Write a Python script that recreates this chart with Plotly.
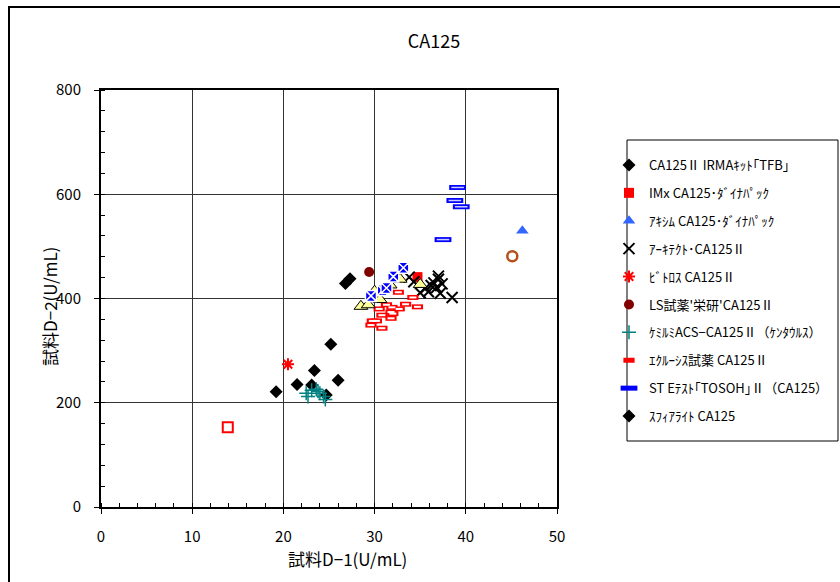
import plotly.graph_objects as go

# ---- data ----
irma_x = [19.2, 21.5, 23.1, 23.4, 24.7, 25.2, 26.0]
irma_y = [221, 235, 234, 262, 215, 312, 243]
imx_x = [34.7]
imx_y = [441]
axsym_x = [46.2]
axsym_y = [530]
arch_x = [33.8, 34.3, 35.0, 35.6, 35.9, 36.2, 36.5, 36.8, 37.0, 37.2, 37.4, 37.0, 38.5]
arch_y = [441, 432, 411, 420, 413, 425, 430, 421, 437, 410, 428, 443, 402]
vitros_x = [20.5]
vitros_y = [274]
ls_x = [29.4]
ls_y = [451]
chem_x = [22.5, 22.7, 23.1, 23.6, 24.0, 24.4, 24.6, 23.8]
chem_y = [218, 212, 224, 226, 218, 212, 206, 222]
ecl_x = [32.6, 34.2, 34.7, 33.4, 32.7, 31.9, 31.3, 30.5, 30.8, 31.8, 32.0, 31.8, 29.75, 30.2, 29.6, 30.8]
ecl_y = [412, 402, 384, 389, 380, 383, 388, 380, 368, 374, 371, 362, 357, 357, 349, 343]
st_x = [39.1, 38.8, 39.5, 37.5]
st_y = [613, 588, 576, 513]
sphere_x = [26.8, 27.3]
sphere_y = [429, 438]
tri_x = [28.5, 29.3, 30.6, 30.0, 31.0, 31.7, 32.8, 35.0]
tri_y = [385, 388, 398, 414, 420, 426, 437, 427]
bx_x = [29.6, 30.9, 31.3, 32.05, 33.15]
bx_y = [405, 416, 420, 442, 459]
osq_x = [13.9]
osq_y = [153]
ocirc_x = [45.1]
ocirc_y = [481]

names = [
    "CA125Ⅱ IRMAｷｯﾄ｢TFB｣",
    "IMx CA125･ﾀﾞｲﾅﾊﾟｯｸ",
    "ｱｷｼﾑ CA125･ﾀﾞｲﾅﾊﾟｯｸ",
    "ｱｰｷﾃｸﾄ･CA125Ⅱ",
    "ﾋﾞﾄﾛｽ CA125Ⅱ",
    "LS試薬'栄研'CA125Ⅱ",
    "ｹﾐﾙﾐACS−CA125Ⅱ（ｹﾝﾀｳﾙｽ）",
    "ｴｸﾙｰｼｽ試薬 CA125Ⅱ",
    "ST Eﾃｽﾄ｢TOSOH｣Ⅱ（CA125）",
    "ｽﾌｨｱﾗｲﾄ CA125",
]

W, H = 840, 582
L, R, T, B = 101, 557, 90, 507

def px2paper_x(px):
    return (px - L) / (R - L)

def px2paper_y(py):
    return (B - py) / (B - T)

fig = go.Figure()

def add(x, y, name, marker, group, showlegend=True):
    fig.add_trace(go.Scatter(x=x, y=y, mode="markers", name=name, marker=marker,
                             legendgroup=group, showlegend=showlegend))

add(irma_x, irma_y, names[0], dict(symbol="diamond", size=10, color="black"), "g0")
add(imx_x, imx_y, names[1], dict(symbol="square", size=10, color="#ff0000"), "g1")
add(axsym_x, axsym_y, names[2], dict(symbol="triangle-up", size=11, color="#3366ff"), "g2")
add(arch_x, arch_y, names[3], dict(symbol="x-thin-open", size=11, color="black", line=dict(width=2)), "g3")
add(vitros_x, vitros_y, names[4], dict(symbol="asterisk-open", size=10, color="#ff0000", line=dict(width=2)), "g4")
add(ls_x, ls_y, names[5], dict(symbol="circle", size=10, color="#800000"), "g5")
add(chem_x, chem_y, names[6], dict(symbol="cross-thin-open", size=10, color="#008080", line=dict(width=1.5)), "g6")
add(ecl_x, ecl_y, names[7], dict(symbol="line-ew-open", size=8, color="#ff0000", line=dict(width=5)), "g7")
add(ecl_x, ecl_y, names[7], dict(symbol="line-ew-open", size=5, color="white", line=dict(width=2)), "g7", False)
add(st_x, st_y, names[8], dict(symbol="line-ew-open", size=12, color="#0000ff", line=dict(width=5)), "g8")
add(st_x, st_y, names[8], dict(symbol="line-ew-open", size=9, color="#ccccff", line=dict(width=1.5)), "g8", False)
add(sphere_x, sphere_y, names[9], dict(symbol="diamond", size=10, color="black"), "g9")
add(tri_x, tri_y, "", dict(symbol="triangle-up", size=12, color="#ffff99", line=dict(color="black", width=1)), "g10", False)
add(bx_x, bx_y, "", dict(symbol="square-x", size=11, color="#0000ff", line=dict(color="white", width=1.5)), "g11", False)
add(osq_x, osq_y, "", dict(symbol="square-open", size=10, color="#ff0000", line=dict(width=2)), "g12", False)
add(ocirc_x, ocirc_y, "", dict(symbol="circle-open", size=10, color="#b5501a", line=dict(width=2.5)), "g13", False)

font_main = "Noto Sans CJK JP"

axis_common = dict(
    showline=True, linecolor="black", linewidth=2, mirror=True,
    showgrid=True, gridcolor="#333333", gridwidth=1, zeroline=False,
    ticks="outside", ticklen=5, tickcolor="black",
    tickfont=dict(family=font_main, size=15, color="black"),
)

fig.update_xaxes(range=[0, 50], dtick=10, tick0=0,
                 minor=dict(dtick=2, ticks="inside", ticklen=4, tickcolor="black", showgrid=False),
                 ticklabelstandoff=10, **axis_common)
fig.update_yaxes(range=[0, 800], dtick=200, tick0=0,
                 minor=dict(dtick=40, ticks="inside", ticklen=4, tickcolor="black", showgrid=False),
                 ticklabelstandoff=10, **axis_common)

fig.update_layout(
    width=W, height=H,
    margin=dict(l=L, r=W - R, t=T, b=H - B, autoexpand=False),
    paper_bgcolor="white", plot_bgcolor="white",
    font=dict(family=font_main, color="black"),
    title=dict(text="CA125", x=434 / W, xref="container", y=1 - 42 / H, yref="container",
               xanchor="center", yanchor="middle", font=dict(size=18, family=font_main)),
    legend=dict(x=px2paper_x(609), y=px2paper_y(150), xanchor="left", yanchor="top",
                bgcolor="rgba(0,0,0,0)", borderwidth=0,
                font=dict(size=13, family=font_main), traceorder="grouped",
                tracegroupgap=8, itemsizing="trace"),
    showlegend=True,
    annotations=[
        dict(text="試料D−1(U/mL)", x=px2paper_x(347), y=px2paper_y(558), xref="paper", yref="paper",
             showarrow=False, font=dict(size=17), xanchor="center", yanchor="middle"),
        dict(text="試料D−2(U/mL)", x=px2paper_x(49), y=px2paper_y(307), xref="paper", yref="paper",
             showarrow=False, font=dict(size=17), textangle=-90, xanchor="center", yanchor="middle"),
    ],
    shapes=[
        dict(type="rect", xref="paper", yref="paper",
             x0=px2paper_x(9), x1=px2paper_x(850), y0=px2paper_y(600), y1=px2paper_y(7),
             line=dict(color="black", width=2), fillcolor="rgba(0,0,0,0)", layer="below"),
        dict(type="rect", xref="paper", yref="paper",
             x0=px2paper_x(627), x1=px2paper_x(838), y0=px2paper_y(441), y1=px2paper_y(140),
             line=dict(color="black", width=1), fillcolor="rgba(0,0,0,0)", layer="below"),
    ],
)

fig.write_html("out.html", config={"displayModeBar": False},
               post_script="document.body.style.margin='0';")
